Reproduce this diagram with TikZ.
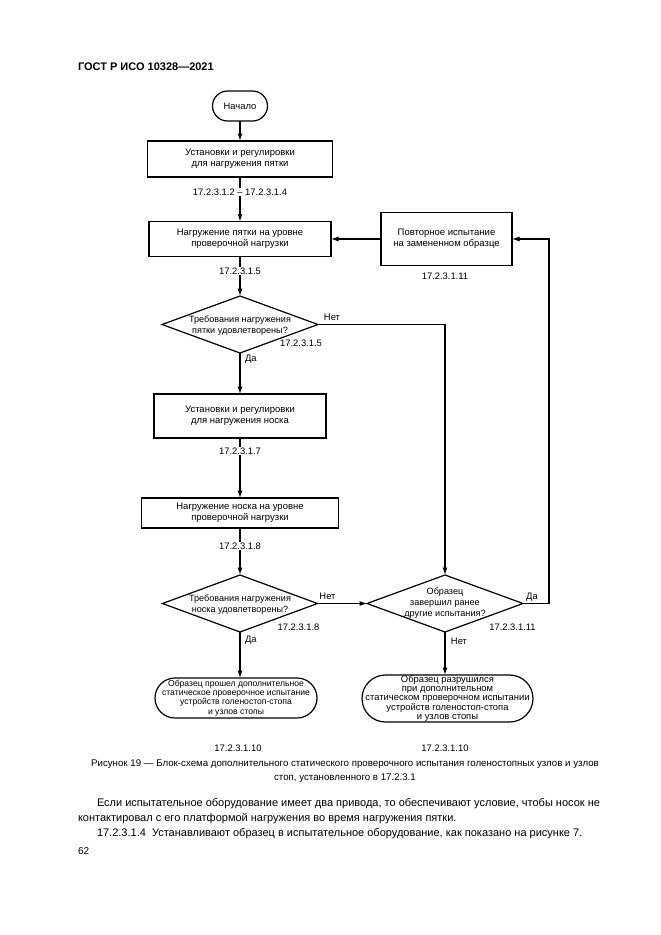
\documentclass[tikz,border=0pt]{standalone}
\usepackage{fontspec}
\setmainfont{Liberation Sans}
\usetikzlibrary{shapes.geometric,arrows.meta,calc}
\begin{document}
\begin{tikzpicture}[x=1pt,y=-1pt,
  every node/.style={inner sep=0pt, outer sep=0pt},
  line/.style={line width=1.1pt},
  arr/.style={line width=1.1pt, -{Latex[length=7.5pt,width=5pt]}},
  box/.style={draw, line width=1.2pt, rectangle, align=center, font=\fontsize{9.5}{11.2}\selectfont},
  termbox/.style={draw, line width=1.2pt, rectangle, align=center, font=\fontsize{9.4}{9.4}\selectfont},
  dia/.style={draw, line width=1.2pt, diamond, aspect=2.74},
  dtext/.style={align=center, font=\fontsize{9.1}{11}\selectfont},
  lbl/.style={font=\fontsize{9.4}{11}\selectfont, fill=white, inner sep=1pt},
  small/.style={font=\fontsize{9.4}{11}\selectfont},
]
\fill[white] (0,0) rectangle (661,935);
\useasboundingbox (0,0) rectangle (661,935);

\node[anchor=west, font=\bfseries\fontsize{11}{13}\selectfont] (hdr) at (78,67) {ГОСТ Р ИСО 10328—2021};

% nodes
\node[termbox, rounded corners=15pt, minimum width=55pt, minimum height=30pt] (start) at (240,106) {Начало};
\node[box, minimum width=185pt, minimum height=36pt] (b1) at (240,159) {Установки и регулировки\\для нагружения пятки};
\node[box, minimum width=182pt, minimum height=35pt] (b2) at (240,239) {Нагружение пятки на уровне\\проверочной нагрузки};
\node[box, minimum width=131pt, minimum height=53pt] (rep) at (446.5,239) {Повторное испытание\\на замененном образце};
\node[dia, minimum width=156pt, minimum height=57pt] (d1) at (240,324.5) {};
\node[dtext] (d1t) at (240,326) {Требования нагружения\\пятки удовлетворены?};
\node[box, minimum width=172pt, minimum height=44pt] (b3) at (240,416) {Установки и регулировки\\для нагружения носка};
\node[box, minimum width=197pt, minimum height=30pt] (b4) at (240,513) {Нагружение носка на уровне\\проверочной нагрузки};
\node[dia, minimum width=155pt, minimum height=57pt] (d2) at (240,603.5) {};
\node[dtext] (d2t) at (240,605) {Требования нагружения\\носка удовлетворены?};
\node[dia, minimum width=156pt, minimum height=57pt] (d3) at (445,603.5) {};
\node[dtext] (d3t) at (445,603) {Образец\\завершил ранее\\другие испытания?};
\node[termbox, rounded corners=20pt, minimum width=162pt, minimum height=40pt, font=\fontsize{8.6}{9.4}\selectfont] (t1) at (236,698) {Образец прошел дополнительное\\статическое проверочное испытание\\устройств голеностоп-стопа\\и узлов стопы};
\node[termbox, rounded corners=23.5pt, minimum width=171pt, minimum height=47pt] (t2) at (447.5,698.5) {Образец разрушился\\при дополнительном\\статическом проверочном испытании\\устройств голеностоп-стопа\\и узлов стопы};
\coordinate (rc) at (549,239);

% connectors
\draw[arr] (start) -- (b1);
\draw[arr] (b1) -- (b2);
\draw[arr] (rep.west) -- (b2.east);
\draw[arr] (b2) -- (d1.north);
\draw[arr] (d1.east) -| (d3.north);
\draw[arr] (d1.south) -- (b3.north);
\draw[arr] (b3) -- (b4);
\draw[arr] (b4) -- (d2.north);
\draw[arr] (d2.east) -- (d3.west);
\draw[arr] (d2.south) -- (d2.south |- t1.north);
\draw[arr] (d3.south) -- (d3.south |- t2.north);
\draw[arr] (d3.east) -| (rc) -- (rep.east);

% labels
\node[lbl] (l1) at (240,192) {17.2.3.1.2 – 17.2.3.1.4};
\node[lbl] (l2) at (240,271) {17.2.3.1.5};
\node[small] (l3) at (445,276) {17.2.3.1.11};
\node[small] (l4) at (301,343) {17.2.3.1.5};
\node[small] (n1) at (332,317) {Нет};
\node[small, anchor=west] (y1) at (245,359) {Да};
\node[lbl] (l5) at (240,451) {17.2.3.1.7};
\node[lbl] (l6) at (240,546) {17.2.3.1.8};
\node[small] (n2) at (327.5,596) {Нет};
\node[small] (l7) at (298.5,627) {17.2.3.1.8};
\node[small, anchor=west] (y2) at (245,640) {Да};
\node[small] (y3) at (532,597) {Да};
\node[small] (l8) at (512.5,627) {17.2.3.1.11};
\node[small] (n3) at (459,641) {Нет};
\node[small] (l9) at (238,748) {17.2.3.1.10};
\node[small] (l10) at (445,748) {17.2.3.1.10};

% caption and text
\node[font=\fontsize{9.7}{12}\selectfont] (cap1) at (345,764) {Рисунок 19 — Блок-схема дополнительного статического проверочного испытания голеностопных узлов и узлов};
\node[font=\fontsize{9.7}{12}\selectfont] (cap2) at (345,778) {стоп, установленного в 17.2.3.1};
\node[anchor=west, font=\fontsize{11}{13}\selectfont] (p1) at (97,804) {Если испытательное оборудование имеет два привода, то обеспечивают условие, чтобы носок не};
\node[anchor=west, font=\fontsize{11}{13}\selectfont] (p2) at (78,819) {контактировал с его платформой нагружения во время нагружения пятки.};
\node[anchor=west, font=\fontsize{11}{13}\selectfont] (p3) at (97,834) {17.2.3.1.4\ \ Устанавливают образец в испытательное оборудование, как показано на рисунке 7.};
\node[anchor=west, font=\fontsize{10}{12}\selectfont] (pg) at (78,851) {62};
\end{tikzpicture}
\end{document}
